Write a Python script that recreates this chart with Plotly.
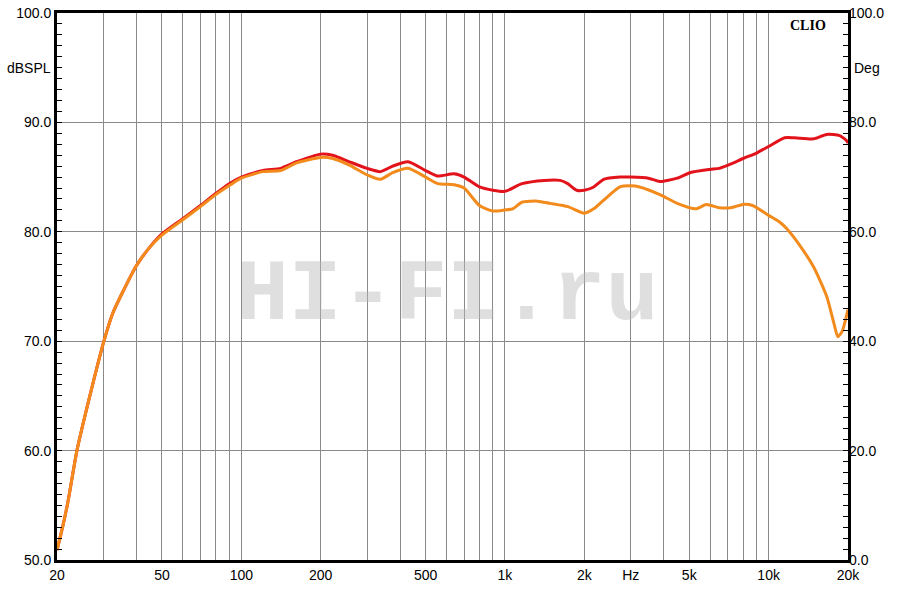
import plotly.graph_objects as go
import numpy as np

# Frequencies (Hz) and SPL (dB)
red_f = [20, 21, 22, 23.8, 26.7, 30.2, 32.6, 35.5, 40, 45, 50, 60, 70, 80, 90, 100, 121, 141,
         162, 200, 222, 257, 300, 337, 375, 429, 500, 556, 641, 700, 800, 900, 1000, 1160,
         1410, 1620, 1730, 1870, 2000, 2170, 2370, 2730, 3000, 3500, 3870, 4500, 5030, 5990,
         6500, 7200, 8010, 9000, 10000, 11500, 12500, 14800, 16600, 18600, 19800, 20000]
red_db = [50.9, 53.0, 55.3, 60.0, 65.1, 70.1, 72.6, 74.5, 76.9, 78.6, 79.8, 81.2, 82.4, 83.5,
          84.4, 85.0, 85.6, 85.8, 86.4, 87.1, 87.0, 86.4, 85.8, 85.5, 86.0, 86.4, 85.6, 85.1,
          85.3, 85.0, 84.1, 83.8, 83.7, 84.4, 84.7, 84.7, 84.4, 83.8, 83.8, 84.1, 84.8, 85.0,
          85.0, 84.9, 84.6, 84.9, 85.4, 85.7, 85.8, 86.2, 86.7, 87.2, 87.8, 88.6, 88.6, 88.5,
          88.9, 88.8, 88.3, 88.1]

ora_f = [20, 21, 22, 23.8, 26.7, 30.2, 32.6, 35.5, 40, 45, 50, 60, 70, 80, 91, 100, 121, 141,
         162, 200, 222, 257, 300, 337, 375, 429, 500, 556, 641, 700, 800, 900, 1000, 1070,
         1160, 1330, 1480, 1730, 2000, 2170, 2370, 2730, 3000, 3240, 3870, 4500, 5300, 5800,
         6500, 7200, 8000, 8700, 10000, 11000, 11700, 13000, 14800, 16600, 17700, 18300,
         19000, 20000]
ora_db = [50.9, 53.0, 55.3, 60.0, 65.1, 70.1, 72.6, 74.5, 76.9, 78.6, 79.7, 81.1, 82.3, 83.4,
          84.3, 84.9, 85.5, 85.6, 86.3, 86.8, 86.7, 86.1, 85.2, 84.8, 85.4, 85.8, 85.0, 84.4,
          84.3, 84.0, 82.4, 81.9, 82.0, 82.1, 82.7, 82.8, 82.6, 82.3, 81.7, 82.1, 82.9, 84.1,
          84.2, 84.1, 83.4, 82.6, 82.1, 82.5, 82.2, 82.2, 82.5, 82.4, 81.5, 80.9, 80.3, 78.9,
          76.8, 74.1, 71.6, 70.4, 70.9, 72.9]

grid_freqs = [20, 30, 40, 50, 60, 70, 80, 90, 100, 200, 300, 400, 500, 600, 700, 800, 900,
              1000, 2000, 3000, 4000, 5000, 6000, 7000, 8000, 9000, 10000, 20000]
label_map = {20: "20", 50: "50", 100: "100", 200: "200", 500: "500", 1000: "1k",
             2000: "2k", 3000: "Hz", 5000: "5k", 10000: "10k", 20000: "20k"}
x_text = [label_map.get(f, "") for f in grid_freqs]

left_ticks = [50, 60, 70, 80, 90, 100]
right_ticks = [0, 20, 40, 60, 80, 100]

RED = "#e3131b"
ORANGE = "#f28a1c"
FONT = "Liberation Sans, Arial, sans-serif"

fig = go.Figure()
fig.add_trace(go.Scatter(x=red_f, y=red_db, mode="lines",
                         line=dict(color=RED, width=3, shape="spline", smoothing=0.6),
                         hoverinfo="skip", showlegend=False))
fig.add_trace(go.Scatter(x=ora_f, y=ora_db, mode="lines",
                         line=dict(color=ORANGE, width=3, shape="spline", smoothing=0.6),
                         hoverinfo="skip", showlegend=False))
# invisible trace to anchor the right axis
fig.add_trace(go.Scatter(x=[20, 20000], y=[0, 100], yaxis="y2", mode="lines",
                         line=dict(width=0), opacity=0, hoverinfo="skip", showlegend=False))

fig.update_layout(
    width=900, height=593,
    margin=dict(l=57, r=52, t=13, b=33, autoexpand=False),
    paper_bgcolor="white", plot_bgcolor="white",
    font=dict(family=FONT, size=14, color="black"),
    xaxis=dict(type="log", range=[np.log10(20), np.log10(20000)],
               tickmode="array", tickvals=grid_freqs, ticktext=x_text,
               showgrid=True, gridcolor="#8a8a8a", gridwidth=1,
               showline=True, linecolor="black", linewidth=3, mirror=True,
               ticks="", zeroline=False, tickfont=dict(size=14), automargin=False,
               ticklabeloverflow="allow"),
    yaxis=dict(range=[50, 100], tickmode="array", tickvals=left_ticks,
               ticktext=[f"{v:.1f}" for v in left_ticks],
               showgrid=True, gridcolor="#8a8a8a", gridwidth=1,
               showline=True, linecolor="black", linewidth=3, mirror=True,
               ticks="inside", ticklen=5, tickcolor="black",
               minor=dict(dtick=1, ticks="inside", ticklen=5, tickcolor="black", showgrid=False),
               zeroline=False, tickfont=dict(size=14), automargin=False,
               ticklabeloverflow="allow"),
    yaxis2=dict(range=[0, 100], overlaying="y", side="right", tickmode="array",
                tickvals=right_ticks, ticktext=[f"{v:.1f}" for v in right_ticks],
                showgrid=False, showline=False, zeroline=False,
                ticks="inside", ticklen=5, tickcolor="black",
                minor=dict(dtick=2, ticks="inside", ticklen=5, tickcolor="black", showgrid=False),
                tickfont=dict(size=14), automargin=False, ticklabeloverflow="allow"),
    annotations=[
        dict(text="dBSPL", xref="paper", yref="y", x=0, y=95, xanchor="right", yanchor="middle",
             xshift=-4, showarrow=False, font=dict(size=14)),
        dict(text="Deg", xref="paper", yref="y", x=1, y=95, xanchor="left", yanchor="middle",
             xshift=4, showarrow=False, font=dict(size=14)),
        dict(text="<b>CLIO</b>", xref="paper", yref="paper", x=0.975, y=0.977,
             xanchor="right", yanchor="middle", showarrow=False,
             font=dict(family="Liberation Serif, Times New Roman, serif", size=14, color="black")),
        dict(text="<b>HI-FI.ru</b>", xref="paper", yref="paper", x=0.493, y=0.484,
             xanchor="center", yanchor="middle", showarrow=False,
             font=dict(family="Liberation Mono, Courier New, monospace", size=88,
                       color="rgba(185,185,185,0.45)")),
    ],
)

fig.write_html("out.html", config={"displayModeBar": False},
               post_script="document.body.style.margin='0';document.body.style.padding='0';")
